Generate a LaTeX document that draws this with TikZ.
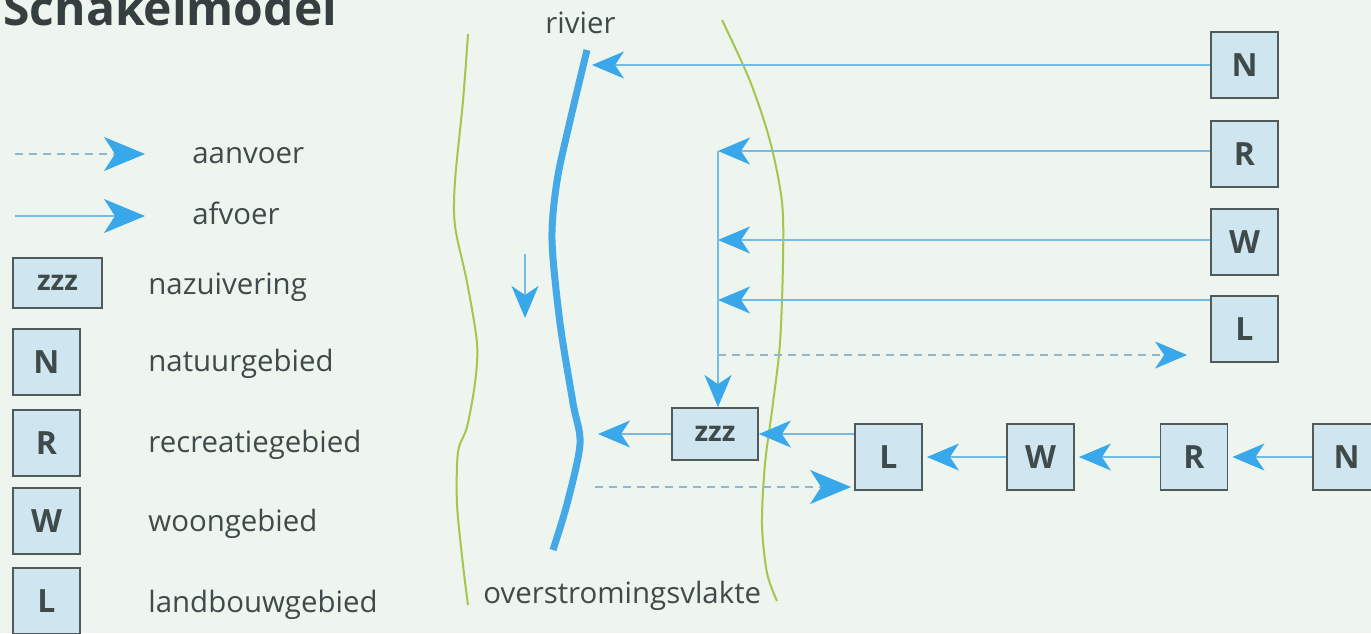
\documentclass[tikz,border=0pt]{standalone}
\usepackage{fontspec}
\setmainfont{Open Sans}
\usetikzlibrary{arrows.meta,calc}
\definecolor{bg}{HTML}{EDF5EE}
\definecolor{boxblue}{HTML}{CFE6F1}
\definecolor{boxgray}{HTML}{505A5A}
\definecolor{txtgray}{HTML}{3F4A4A}
\definecolor{lineblue}{HTML}{72BCE6}
\definecolor{dashblue}{HTML}{8DB8D2}
\definecolor{tipblue}{HTML}{39A8EA}
\definecolor{riverblue}{HTML}{45A9E7}
\definecolor{bankgreen}{HTML}{A3C64C}
\tikzset{
  area/.style={draw=boxgray, fill=boxblue, line width=0.9pt, minimum width=33.5pt, minimum height=33pt, inner sep=0pt, text=txtgray, font=\bfseries\fontsize{16}{18}\selectfont},
  zbox/.style={area, minimum width=43pt, minimum height=26pt, font=\bfseries\fontsize{14}{16}\selectfont},
  lbl/.style={anchor=base west, text=txtgray, font=\fontsize{14.7}{17}\selectfont, inner sep=0pt},
  afv/.style={draw=lineblue, line width=0.75pt, -{Stealth[length=16pt,width=13.5pt,inset=4.5pt,color=tipblue]}},
  aanv/.style={afv, draw=dashblue, dash pattern=on 4pt off 3pt},
  bigtip/.style={-{Stealth[length=20.5pt,width=17pt,inset=5.5pt,color=tipblue]}},
  bank/.style={draw=bankgreen, line width=1pt},
}
\begin{document}
\begin{tikzpicture}[x=0.5pt,y=-0.5pt]
\fill[bg] (0,0) rectangle (1371,633);
\useasboundingbox (0,0) rectangle (1371,633);
\node[anchor=base west, inner sep=0pt, text=txtgray!85!black, font=\bfseries\fontsize{24}{28}\selectfont] (title) at (3,25) {Schakelmodel};

\coordinate (la1) at (15,154);
\coordinate (la2) at (145,154);
\coordinate (lb1) at (15,216);
\coordinate (lb2) at (145,216);
\draw[aanv,bigtip] (la1) -- (la2);
\draw[afv,bigtip] (lb1) -- (lb2);
\node[lbl] (t1) at (192,163) {aanvoer};
\node[lbl] (t2) at (192,224) {afvoer};
\node[zbox, minimum width=44.5pt, minimum height=25pt] (kz) at (57.5,283) {zzz};
\node[area] (kn) at (46.5,362) {N};
\node[area] (kr) at (46.5,443) {R};
\node[area] (kw) at (46.5,521) {W};
\node[area] (kl) at (46.5,601) {L};
\node[lbl] (t3) at (148,294) {nazuivering};
\node[lbl] (t4) at (148,371) {natuurgebied};
\node[lbl] (t5) at (148,452) {recreatiegebied};
\node[lbl] (t6) at (148,531) {woongebied};
\node[lbl] (t7) at (148,612) {landbouwgebied};

\draw[bank] plot[smooth] coordinates {(468,34) (463,101) (455,181) (455,226) (467,282) (477,343) (475,383) (467,427) (458,452) (457,504) (463,565) (468,605)};
\draw[bank] plot[smooth] coordinates {(722,20) (750,81) (770,141) (782,202) (783,262) (780,343) (773,403) (765,464) (762,524) (767,573) (777,601)};
\draw[riverblue, line width=3.5pt] plot[smooth] coordinates {(587,50) (570,121) (557,181) (552,240) (560,323) (573,403) (580,444) (567,504) (553,550)};
\node[lbl] (riv) at (545,33) {rivier};
\node[lbl] (vl) at (483,603) {overstromingsvlakte};
\coordinate (f1) at (525,254);
\coordinate (f2) at (525,318);
\draw[afv] (f1) -- (f2);

\node[area] (n1) at (1244.5,65) {N};
\node[area] (r1) at (1244.5,154) {R};
\node[area] (w1) at (1244.5,242) {W};
\node[area] (l1) at (1244.5,329) {L};
\node[zbox] (z) at (715,434) {zzz};
\node[area] (l2) at (888.5,457) {L};
\node[area] (w2) at (1040.5,457) {W};
\node[area] (r2) at (1194,457) {R};
\node[area] (n2) at (1346.5,457) {N};

\coordinate (rv1) at (592,65);
\coordinate (c2) at (718,151);
\coordinate (c3) at (718,240);
\coordinate (c4) at (718,300);
\coordinate (c5) at (718,355);
\coordinate (rv2) at (598,434);
\coordinate (rv3) at (595,487);
\draw[afv] (n1.west) -- (rv1);
\draw[afv] (r1.west |- c2) -- (c2);
\draw[afv] (w1.west |- c3) -- (c3);
\draw[afv] (l1.west |- c4) -- (c4);
\draw[aanv, shorten >=11.5pt] (c5) -- (l1.west |- c5);
\draw[afv] (c2) -- (c2 |- z.north);
\draw[afv] (z.west) -- (rv2);
\draw[afv] (l2.west |- z.east) -- (z.east);
\draw[aanv,bigtip,shorten >=1.5pt] (rv3) -- (l2.west |- rv3);
\draw[afv,shorten >=2pt] (w2) -- (l2);
\draw[afv,shorten >=2pt] (r2) -- (w2);
\draw[afv,shorten >=2pt] (n2) -- (r2);
\end{tikzpicture}
\end{document}
